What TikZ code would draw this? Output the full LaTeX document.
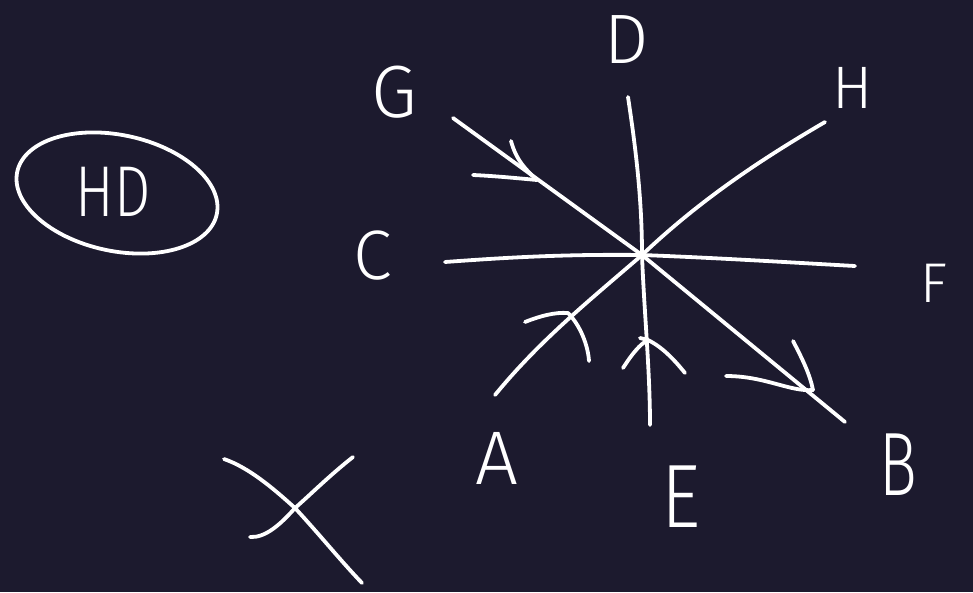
\documentclass[tikz,border=0pt]{standalone}
\usepackage{fontspec}
\setmainfont{Fira Sans}[UprightFont={* Light}]
\definecolor{bg}{HTML}{1C1A2E}
\definecolor{ink}{HTML}{FFFFFF}
\tikzset{
  pen/.style={draw=ink, line width=3.8pt, line cap=round, line join=round},
  lbl/.style={text=ink, inner sep=0pt, font=\fontsize{#1}{#1}\selectfont},
}
\begin{document}
\begin{tikzpicture}[x=1pt,y=-1pt]
\fill[bg] (0,0) rectangle (973,592);
\useasboundingbox (0,0) rectangle (973,592);
% centre and ends
\coordinate (O) at (642,255);
\coordinate (gG) at (453,118);
\coordinate (gB) at (845,422);
\coordinate (dD) at (628,97);
\coordinate (dE) at (650,425);
\coordinate (hH) at (825,122);
\coordinate (hA) at (495,395);
\coordinate (cC) at (445,262);
\coordinate (cF) at (855,266);
% labels
\node[lbl=70] (D) at (627,40) {D};
\node[lbl=74] (G) at (394,92) {G};
\node[lbl=60] (H) at (853,88) {H};
\node[lbl=70] (C) at (373,256) {C};
\node[lbl=56] (F) at (934,283) {F};
\node[lbl=76] (A) at (497,458) {A};
\node[lbl=90, xscale=0.85] (E) at (681,497) {E};
\node[lbl=90, xscale=0.7] (B) at (898,465) {B};
% lines
\draw[pen] (gG) -- (O) -- (gB);
\draw[pen] (dD) .. controls (636,150) and (642,200) .. (O) .. controls (644,310) and (650,370) .. (dE);
\draw[pen] (hH) .. controls (760,160) and (700,200) .. (O) .. controls (590,300) and (540,340) .. (hA);
\draw[pen] (cC) .. controls (500,258) and (560,254) .. (O) .. controls (720,258) and (800,263) .. (cF);
% arrowheads
\coordinate (t1) at (537,180);
\draw[pen] (511,141) .. controls (516,160) and (526,170) .. (t1);
\draw[pen] (473,175) .. controls (495,176) and (515,178) .. (t1);
\coordinate (t2) at (813,390);
\draw[pen] (793,341) .. controls (803,360) and (810,375) .. (t2);
\draw[pen] (726,376) .. controls (765,376) and (790,392) .. (t2);
\coordinate (t3) at (568,313);
\draw[pen] (525,322) .. controls (540,316) and (555,312) .. (t3) .. controls (580,325) and (588,345) .. (589,361);
\coordinate (t4) at (648,340);
\draw[pen] (640,338) -- (t4);
\draw[pen] (623,368) .. controls (632,354) and (640,344) .. (t4) .. controls (664,348) and (676,362) .. (685,373);
% HD ellipse
\node[lbl=72, xscale=0.8] (HD) at (113,192) {HD};
\draw[pen] (117,193) ellipse [x radius=102pt, y radius=58pt, rotate=-12];
% X strokes
\coordinate (xc) at (295,508);
\draw[pen] (224,459) .. controls (250,468) and (275,490) .. (xc) .. controls (320,535) and (340,560) .. (362,583);
\draw[pen] (353,457) .. controls (330,475) and (310,495) .. (xc) .. controls (280,525) and (265,538) .. (250,537);
\end{tikzpicture}
\end{document}
